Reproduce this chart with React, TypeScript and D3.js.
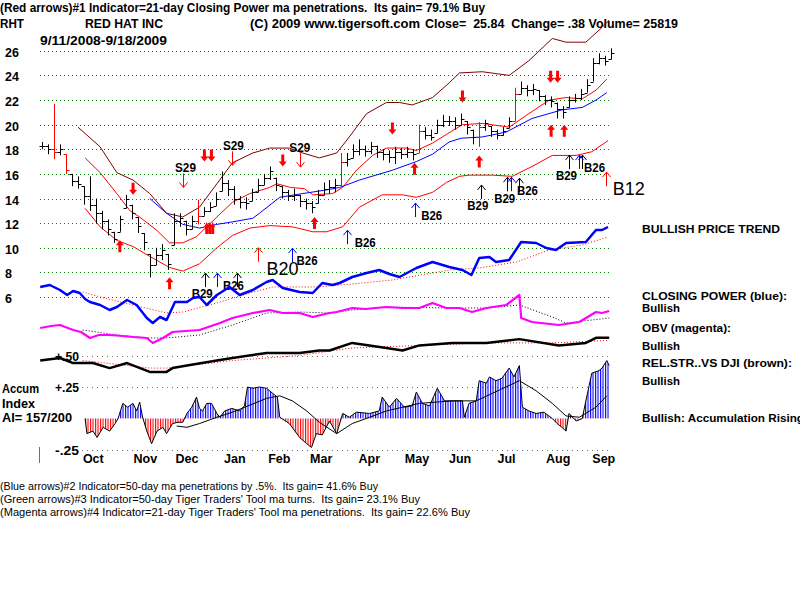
import React from 'react';
import * as d3 from 'd3';

type Pt = [number, number];

// price bars (one bar every ~2.7 trading days), 9/11/2008 - 9/18/2009
const closes = [
  18.3, 18.0, 17.8, 18.0, 16.3, 15.4, 15.2, 14.2, 13.5, 12.8, 12.2, 11.5, 10.7, 12.3, 14.0, 12.8,
  11.8, 10.5, 8.6, 9.4, 9.8, 8.7, 12.2, 12.4, 11.5, 12.2, 12.6, 13.0, 13.3, 14.0, 15.3, 14.8,
  14.0, 13.7, 13.6, 14.5, 15.1, 15.7, 16.2, 15.1, 14.5, 14.2, 14.3, 13.8, 13.6, 13.3, 14.3, 14.8,
  14.9, 15.1, 17.0, 17.2, 17.9, 18.0, 17.9, 18.3, 17.8, 17.6, 17.4, 17.8, 17.6, 17.8, 17.6, 19.5,
  19.2, 19.0, 20.0, 20.3, 20.3, 20.0, 20.5, 19.8, 19.0, 19.8, 20.1, 19.5, 19.2, 19.5, 20.3, 22.5,
  23.0, 22.8, 22.9, 22.3, 22.0, 21.9, 21.3, 21.0, 22.0, 22.2, 22.5, 23.2, 25.0, 25.4, 25.2, 25.8,
];
const highs = [
  18.6, 18.4, 21.7, 18.4, 17.6, 16.0, 15.8, 15.0, 15.8, 14.0, 13.0, 12.3, 11.3, 12.6, 14.3, 13.5,
  12.5, 11.2, 9.5, 10.0, 10.3, 9.5, 12.8, 12.8, 12.2, 12.6, 13.9, 13.3, 13.7, 14.5, 16.2, 15.5,
  15.0, 14.2, 14.1, 14.8, 15.6, 16.0, 16.6, 15.7, 15.0, 14.7, 14.8, 14.3, 14.0, 13.8, 14.7, 15.3,
  15.5, 15.6, 17.7, 17.7, 18.4, 18.8, 18.3, 18.6, 18.3, 18.0, 17.9, 18.2, 18.1, 18.2, 18.0, 20.0,
  19.8, 19.6, 20.4, 20.8, 20.7, 20.6, 20.9, 20.3, 19.6, 20.2, 20.4, 19.9, 19.6, 19.8, 20.6, 23.0,
  23.5, 23.2, 23.3, 22.8, 22.4, 22.3, 21.8, 21.5, 22.3, 22.5, 22.9, 23.7, 25.4, 25.8, 25.6, 26.2,
];
const lows = [
  18.0, 17.6, 17.2, 17.5, 16.0, 15.0, 14.8, 13.5, 13.0, 12.0, 11.5, 11.0, 10.4, 11.3, 13.2, 12.3,
  11.2, 9.8, 7.6, 8.6, 9.0, 8.2, 10.2, 11.7, 11.0, 11.5, 11.9, 12.6, 12.9, 13.4, 14.6, 14.2,
  13.5, 13.2, 13.1, 13.8, 14.5, 15.1, 15.5, 14.6, 14.0, 13.8, 13.8, 13.3, 13.1, 12.8, 13.6, 14.3,
  14.4, 14.5, 14.9, 16.6, 17.3, 17.5, 17.4, 17.6, 17.3, 17.1, 16.9, 16.8, 17.2, 17.3, 17.1, 17.7,
  18.8, 18.7, 19.3, 19.8, 19.9, 19.6, 20.0, 19.2, 18.4, 18.2, 19.5, 19.0, 18.8, 19.1, 19.7, 20.3,
  22.5, 22.3, 22.4, 21.9, 21.6, 21.4, 20.5, 20.5, 21.4, 21.8, 22.0, 22.6, 23.5, 24.9, 24.8, 25.3,
];
const redBars = [2, 4, 26, 50, 63, 73, 79];

// bands and averages as [bar, price]
const upperBand: Pt[] = [
  [6, 19.8], [9.7, 18.2], [12.5, 16.1], [15.2, 15.5], [18, 14.4], [20.8, 12.8], [23.5, 12.5],
  [26.3, 13.3], [29.2, 15.2], [31.8, 16.9], [35.2, 17.7], [38, 18.1], [41.3, 18.1], [43.5, 17.7],
  [46.3, 17.3], [49.2, 17.7], [51.3, 19.0], [54.2, 20.9], [57.5, 21.8], [59.7, 21.8], [61.8, 21.6],
  [65.2, 22.2], [68, 23.4], [69.7, 24.2], [73.5, 24.3], [78, 24.0], [81.3, 25.2], [85.2, 27.0],
  [87.5, 26.7], [90.8, 26.7], [93.5, 27.9], [94.7, 28.5],
];
const midBand: Pt[] = [
  [7.2, 17.3], [9.7, 16.1], [12.5, 14.4], [14.7, 13.0], [16.3, 12.5], [19.2, 11.4], [21.3, 10.4],
  [23.5, 10.4], [25.8, 10.9], [27.5, 11.7], [29.2, 12.5], [31.8, 13.7], [34.7, 14.4], [38, 14.9],
  [39.2, 15.2], [41.5, 14.9], [43.8, 14.8], [45.2, 14.3], [48.5, 14.4], [50.2, 14.9], [52.5, 16.3],
  [55.2, 17.5], [57.5, 18.1], [60.8, 18.1], [62.5, 17.9], [65.2, 18.5], [67.5, 19.2], [70.2, 20.0],
  [73.5, 20.1], [78, 19.8], [81.3, 20.9], [84.7, 22.0], [87.5, 22.2], [90.2, 22.1], [92.5, 22.8],
  [94.3, 23.7],
];
const blueMA: Pt[] = [
  [18, 14.0], [20.8, 12.8], [23.5, 11.9], [26.3, 11.6], [29.2, 11.9], [31.8, 12.1], [35.2, 12.4],
  [36.3, 12.8], [39.7, 14.1], [43.5, 14.4], [47.5, 14.7], [49.7, 14.9], [53, 15.5], [58.5, 16.3],
  [62.5, 17.0], [65.2, 17.6], [68, 18.6], [70, 18.9], [73.5, 19.0], [77.5, 19.4], [81.8, 20.5],
  [86.8, 21.2], [90.2, 21.4], [92.5, 22.0], [94.3, 22.6],
];
const lowerBand: Pt[] = [
  [7.2, 13.2], [9.7, 11.7], [12.5, 10.6], [15.2, 10.1], [18, 9.3], [21.3, 8.4], [23.5, 8.1],
  [26.3, 8.7], [29.2, 10.0], [31.8, 11.0], [34.7, 11.6], [38, 11.8], [41.8, 11.7], [45.2, 11.3],
  [47.5, 11.3], [50.2, 11.7], [53, 13.3], [56.8, 14.3], [60.2, 14.3], [62.5, 14.1], [65.2, 14.5],
  [67.5, 15.3], [69.7, 15.8], [71.3, 15.9], [75.2, 15.9], [78.5, 15.8], [81.8, 16.6], [85.2, 17.5],
  [89.2, 17.5], [91.8, 17.8], [94.5, 18.7],
];

// closing power, OBV (arbitrary units) and relative strength, accumulation index
const closingPower: Pt[] = [
  [-0.3, 43], [1.3, 45], [3, 40], [4.2, 35], [5.2, 39], [6.3, 37], [7.2, 31], [8, 28], [9.7, 25],
  [11.3, 20], [12.5, 23], [14.2, 30], [15.8, 25], [17.5, 12], [18.5, 7], [19.7, 13], [20.8, 10],
  [22.2, 28], [24.2, 28], [25.2, 32], [26.3, 33], [27.5, 25], [29.2, 35], [31.3, 43], [33, 35],
  [35.2, 40], [37.5, 48], [38.5, 50], [40.2, 42], [43, 38], [45.2, 37], [46.8, 47], [48.5, 45],
  [49.7, 47], [51.8, 53], [54.2, 57], [56.3, 60], [58, 56], [59.7, 53], [62.5, 62], [65.2, 68],
  [68, 63], [70.2, 60], [71.7, 55], [73, 72], [74.7, 73], [75.8, 68], [78, 70], [80, 88],
  [82.5, 87], [84.2, 82], [85.8, 80], [87.5, 87], [90.8, 88], [92.5, 100], [93.5, 100], [94.5, 103],
];
const closingPowerMA: Pt[] = [
  [6.8, 38], [9.7, 33], [15.2, 25], [20.8, 17], [23.5, 18], [29.2, 27], [34.7, 37], [38.5, 43],
  [45.8, 43], [51.8, 46], [58.5, 50], [68, 60], [73, 62], [79.2, 68], [84.7, 80], [90.2, 85], [94.5, 93],
];
const obv: Pt[] = [
  [-0.3, 22], [1.5, 24], [3, 25], [5.2, 20], [6.5, 18], [8, 12], [9.5, 15], [11.3, 15], [13.5, 14],
  [15.2, 13], [17.5, 12], [18.5, 7], [20.2, 12], [21.8, 18], [24, 19], [26.3, 20], [29.7, 27],
  [31.8, 32], [35.2, 37], [38, 40], [40.2, 37], [43, 37], [45.2, 33], [48, 37], [49.2, 38],
  [51.8, 42], [54, 41], [57.5, 43], [60.2, 42], [63, 42], [65.2, 47], [67.5, 42], [69.7, 42],
  [71.8, 38], [74.2, 42], [77.5, 45], [79.7, 55], [80, 32], [81.8, 28], [86.3, 25], [89.7, 28],
  [92.5, 38], [93.5, 37], [94.7, 39],
];
const obvMA: Pt[] = [
  [6.8, 20], [12.5, 15], [18, 12], [20.8, 12], [26.3, 15], [31.8, 25], [37.5, 37], [43, 38],
  [48, 37], [51.8, 40], [57.5, 43], [68.5, 42], [74.2, 42], [79.7, 45], [85.2, 33], [87.5, 27], [94.7, 32],
];
const relStrength: Pt[] = [
  [-0.3, 0.46], [3, 0.48], [5.2, 0.44], [8.5, 0.44], [11.3, 0.40], [14.2, 0.44], [18, 0.37],
  [20.8, 0.37], [21.8, 0.40], [24.2, 0.42], [29.2, 0.46], [31.8, 0.48], [37.5, 0.52], [43, 0.52],
  [46.3, 0.54], [48, 0.54], [51.8, 0.60], [57.5, 0.56], [60.2, 0.54], [63, 0.58], [68.5, 0.60],
  [74.2, 0.60], [79.7, 0.63], [86.3, 0.58], [90.8, 0.60], [92.5, 0.64], [94.7, 0.64],
];
const relStrengthMA: Pt[] = [
  [6.8, 0.46], [18, 0.40], [20.8, 0.40], [31.8, 0.46], [43, 0.50], [51.8, 0.56], [74.2, 0.60],
  [85.2, 0.60], [94.7, 0.62],
];
const accum: Pt[] = [
  [7.2, 0], [7.5, -0.12], [8.5, -0.10], [9.2, -0.15], [10.2, -0.07], [11.3, -0.10], [12.2, -0.04],
  [12.7, 0], [13.5, 0.12], [14.3, 0.09], [15.2, 0.12], [15.8, 0.06], [16.3, 0.13], [16.8, 0.01],
  [17.5, -0.10], [18.3, -0.20], [19.2, -0.10], [20.2, -0.07], [20.8, -0.12], [21.8, -0.04],
  [22.7, -0.03], [23.5, -0.03], [24.2, 0.04], [25, 0.09], [25.8, 0.17], [26.3, 0.08], [26.8, 0.06],
  [27.5, 0.12], [28.3, 0.12], [29.2, 0.04], [29.7, 0.01], [30.5, 0.06], [31.7, 0.08], [33, 0.06],
  [33.8, 0.10], [34.3, 0.25], [35.2, 0.24], [36.3, 0.25], [37.5, 0.24], [38.5, 0.20], [39.3, 0.17],
  [39.7, 0.01], [41.3, -0.04], [43, -0.15], [44.2, -0.20], [45, -0.23], [45.8, -0.12], [46.8, -0.13],
  [48, -0.02], [49.2, -0.12], [50.2, 0.04], [51.3, 0.01], [52.5, 0.05], [54.7, 0.04], [56.3, 0.06],
  [56.8, 0.17], [58, 0.09], [59.2, 0.16], [60.5, 0.09], [61.8, 0.10], [62.5, 0.21], [63.5, 0.12],
  [64.7, 0.10], [66, 0.24], [67.2, 0.14], [68.8, 0.14], [70.2, 0.14], [70.5, 0.01], [71.3, 0.12],
  [72.5, 0.14], [73, 0.30], [74.2, 0.28], [74.7, 0.33], [75.8, 0.30], [76.8, 0.32], [78, 0.40],
  [78.8, 0.33], [79.7, 0.42], [80.2, 0.09], [81.3, 0.06], [82.5, 0.04], [83.8, 0.05], [85.2, 0],
  [86, -0.04], [86.8, -0.07], [87.5, -0.10], [88, 0.04], [89.2, -0.02], [90.2, 0], [90.8, 0.14],
  [91.8, 0.36], [93, 0.38], [93.5, 0.40], [94.3, 0.46], [94.7, 0.42],
];
const accumMA: Pt[] = [
  [22.5, -0.06], [24.2, -0.07], [26.3, -0.04], [29.2, 0.01], [31.8, 0.05], [37.5, 0.16],
  [39.7, 0.18], [41.8, 0.14], [44.2, 0.06], [46.3, -0.03], [49.2, -0.12], [51.8, -0.04],
  [54.7, 0.01], [57.5, 0.06], [63, 0.12], [68.5, 0.14], [72.5, 0.14], [75.2, 0.20], [79.7, 0.30],
  [82.5, 0.22], [85.2, 0.12], [87.5, 0.02], [89.7, 0.01], [92.5, 0.09], [94.3, 0.18],
];

// signals: bar, price at arrow tip
const boldArrows = [
  { i: 15.2, p: 14.3, dir: 'down', n: 1 }, { i: 27.7, p: 17.0, dir: 'down', n: 2 },
  { i: 28, p: 12.1, dir: 'up', n: 3 }, { i: 13, p: 10.6, dir: 'up', n: 1 },
  { i: 21.3, p: 7.6, dir: 'up', n: 1 }, { i: 40.2, p: 16.6, dir: 'down', n: 1 },
  { i: 45.5, p: 12.5, dir: 'up', n: 1 }, { i: 58.5, p: 19.2, dir: 'down', n: 1 },
  { i: 62.2, p: 16.9, dir: 'up', n: 1 }, { i: 70.2, p: 21.8, dir: 'down', n: 1 },
  { i: 73, p: 17.5, dir: 'up', n: 1 }, { i: 85.5, p: 23.4, dir: 'down', n: 2 },
  { i: 85, p: 20.0, dir: 'up', n: 1 }, { i: 87.2, p: 20.0, dir: 'up', n: 1 },
];
const thinArrows = [
  { i: 23.5, p: 14.9, dir: 'down', kind: 'red' }, { i: 31.8, p: 16.7, dir: 'down', kind: 'red' },
  { i: 43, p: 16.55, dir: 'down', kind: 'red' }, { i: 36, p: 10.0, dir: 'up', kind: 'red' },
  { i: 94.2, p: 16.15, dir: 'up', kind: 'red' },
  { i: 27.2, p: 7.94, dir: 'up', kind: 'black' }, { i: 32.5, p: 7.94, dir: 'up', kind: 'black' },
  { i: 73.3, p: 15.1, dir: 'up', kind: 'black' }, { i: 77.7, p: 15.73, dir: 'up', kind: 'black' },
  { i: 79.7, p: 15.65, dir: 'up', kind: 'black' }, { i: 88, p: 17.53, dir: 'up', kind: 'black' },
  { i: 90.2, p: 17.53, dir: 'up', kind: 'black' },
  { i: 29.3, p: 7.94, dir: 'up', kind: 'blue' }, { i: 41.7, p: 9.97, dir: 'up', kind: 'blue' },
  { i: 51, p: 11.43, dir: 'up', kind: 'blue' }, { i: 62.2, p: 13.63, dir: 'up', kind: 'blue' },
  { i: 78.3, p: 15.73, dir: 'up', kind: 'blue' }, { i: 89.7, p: 17.53, dir: 'up', kind: 'blue' },
];
const signalLabels = [
  { text: 'S29', i: 22.2, p: 16.15 }, { text: 'S29', i: 30.2, p: 17.93 }, { text: 'S29', i: 41.3, p: 17.8 },
  { text: 'B29', i: 25, p: 5.9 }, { text: 'B26', i: 30.2, p: 6.56 }, { text: 'B26', i: 42.5, p: 8.59 },
  { text: 'B26', i: 52.2, p: 10.08 }, { text: 'B26', i: 63.3, p: 12.25 }, { text: 'B29', i: 71, p: 13.06 },
  { text: 'B29', i: 75.5, p: 13.6 }, { text: 'B26', i: 79.3, p: 14.28 }, { text: 'B29', i: 85.8, p: 15.5 },
  { text: 'B26', i: 90.5, p: 16.17 },
];
const bigLabels = [{ text: 'B20', i: 37.5, p: 7.78 }, { text: 'B12', i: 95.3, p: 14.28 }];

const priceTicks = [26, 24, 22, 20, 18, 16, 14, 12, 10, 8, 6];
const accumTicks = [
  { v: 0.5, label: '+.50' }, { v: 0.25, label: '+.25' }, { v: -0.25, label: '-.25' },
];
const months = ['Oct', 'Nov', 'Dec', 'Jan', 'Feb', 'Mar', 'Apr', 'May', 'Jun', 'Jul', 'Aug', 'Sep'];
const monthStartDay = [14, 37, 56, 78, 98, 117, 139, 160, 180, 202, 224, 245];
const lastDay = 258;

const FONT = '"Liberation Sans", Arial, Helvetica, sans-serif';
const kindColor: Record<string, string> = { red: '#ff0000', black: '#000000', blue: '#0000ff' };

const App: React.FC = () => {
  const xBar = d3.scaleLinear().domain([0, 95]).range([42, 611]);
  const xDay = d3.scaleLinear().domain([0, lastDay]).range([42, 611]);
  const yP = d3.scaleLinear().domain([6, 26]).range([297, 50.8]);
  const yCP = d3.scaleLinear().domain([0, 100]).range([330, 230]);
  const yOBV = d3.scaleLinear().domain([0, 100]).range([350, 250]);
  const yA = d3.scaleLinear().domain([-0.25, 0.5]).range([450, 355.5]);

  const mk = (ys: d3.ScaleLinear<number, number>) =>
    d3.line<Pt>().x(d => xBar(d[0])).y(d => ys(d[1]));
  const lineP = mk(yP);
  const accArea = d3.area<Pt>().x(d => xBar(d[0])).y0(yA(0)).y1(d => yA(d[1]));
  const zeroY = yA(0);

  const boldArrow = (x: number, tip: number, dir: string, w: number) => {
    const s = dir === 'up' ? 1 : -1;
    const pts = [
      [x, tip], [x + w, tip + 5 * s], [x + 1.5, tip + 5 * s], [x + 1.5, tip + 12 * s],
      [x - 1.5, tip + 12 * s], [x - 1.5, tip + 5 * s], [x - w, tip + 5 * s],
    ];
    return pts.map(p => p.join(',')).join(' ');
  };

  const txt = (extra: React.SVGProps<SVGTextElement>, s: string) => (
    <text fontFamily={FONT} style={{ whiteSpace: 'pre' }} {...extra}>{s}</text>
  );

  return (
    <svg width={800} height={600} style={{ position: 'absolute', left: 0, top: 0, background: '#fff' }}>
      <defs>
        <pattern id="hatchBlue" patternUnits="userSpaceOnUse" width={2.5} height={10}>
          <rect x={0} y={0} width={1.1} height={10} fill="#0000ff" />
        </pattern>
        <pattern id="hatchRed" patternUnits="userSpaceOnUse" width={2.5} height={10}>
          <rect x={0} y={0} width={1.1} height={10} fill="#ff0000" />
        </pattern>
        <clipPath id="above"><rect x={0} y={300} width={800} height={zeroY - 300} /></clipPath>
        <clipPath id="below"><rect x={0} y={zeroY} width={800} height={100} /></clipPath>
      </defs>

      {/* header */}
      {txt({ x: 0, y: 12, fontSize: 12, fontWeight: 'bold', textLength: 485, lengthAdjust: 'spacingAndGlyphs' },
        '(Red arrows)#1 Indicator=21-day Closing Power ma penetrations.  Its gain= 79.1% Buy')}
      {txt({ x: 0, y: 28, fontSize: 12, fontWeight: 'bold', textLength: 24, lengthAdjust: 'spacingAndGlyphs' }, 'RHT')}
      {txt({ x: 85, y: 28, fontSize: 12, fontWeight: 'bold', textLength: 78, lengthAdjust: 'spacingAndGlyphs' }, 'RED HAT INC')}
      {txt({ x: 250, y: 28, fontSize: 12, fontWeight: 'bold', textLength: 170, lengthAdjust: 'spacingAndGlyphs' }, '(C) 2009 www.tigersoft.com')}
      {txt({ x: 425, y: 28, fontSize: 12, fontWeight: 'bold', textLength: 253, lengthAdjust: 'spacingAndGlyphs' }, 'Close=  25.84  Change= .38 Volume= 25819')}
      {txt({ x: 40, y: 45, fontSize: 12, fontWeight: 'bold', textLength: 127, lengthAdjust: 'spacingAndGlyphs' }, '9/11/2008-9/18/2009')}

      {/* price grid */}
      {priceTicks.map(t => {
        const y = Math.round(yP(t)) + 0.5;
        return (
          <g key={t}>
            <line x1={40} x2={611} y1={y} y2={y} stroke="#008000" strokeDasharray="1 3" />
            {txt({ x: 5, y: y + 5, fontSize: 12.5, fontWeight: 'bold' }, String(t))}
          </g>
        );
      })}

      {/* accumulation panel grid */}
      {accumTicks.map(t => {
        const y = Math.round(yA(t.v)) + 0.5;
        return (
          <g key={t.label}>
            <line x1={82} x2={611} y1={y} y2={y} stroke="#707070" strokeDasharray="1 4" />
            {txt({ x: 55, y: y + 4, fontSize: 12, fontWeight: 'bold', textLength: 24, lengthAdjust: 'spacingAndGlyphs' }, t.label)}
          </g>
        );
      })}

      {/* bands */}
      <path d={lineP(upperBand) || ''} fill="none" stroke="#800000" strokeWidth={1} />
      <path d={lineP(midBand) || ''} fill="none" stroke="#ff0000" strokeWidth={1} />
      <path d={lineP(lowerBand) || ''} fill="none" stroke="#ff0000" strokeWidth={1} />
      <path d={lineP(blueMA) || ''} fill="none" stroke="#0000ff" strokeWidth={1} />

      {/* price bars */}
      {closes.map((c, i) => {
        const x = Math.round(xBar(i)) + 0.5;
        const prev = i > 0 ? closes[i - 1] : c;
        const o = Math.min(highs[i], Math.max(lows[i], prev));
        const col = redBars.includes(i) ? '#ff0000' : '#000000';
        return (
          <g key={i} stroke={col} strokeWidth={1}>
            <line x1={x} x2={x} y1={yP(highs[i])} y2={yP(lows[i])} />
            <line x1={x - 3} x2={x} y1={Math.round(yP(o)) + 0.5} y2={Math.round(yP(o)) + 0.5} />
            <line x1={x} x2={x + 3} y1={Math.round(yP(c)) + 0.5} y2={Math.round(yP(c)) + 0.5} />
          </g>
        );
      })}

      {/* signal arrows */}
      {boldArrows.map((a, k) => {
        const offs = a.n === 3 ? [-3, 0, 3] : a.n === 2 ? [-3.5, 3.5] : [0];
        const w = a.n === 3 ? 2.5 : 4;
        return offs.map(o => (
          <polygon key={`${k}-${o}`} points={boldArrow(xBar(a.i) + o, yP(a.p), a.dir, w)} fill="#ff0000" />
        ));
      })}
      {thinArrows.map((a, k) => {
        const x = Math.round(xBar(a.i)) + 0.5;
        const tip = yP(a.p);
        const s = a.dir === 'up' ? 1 : -1;
        return (
          <g key={k} stroke={kindColor[a.kind]} strokeWidth={1} fill="none">
            <line x1={x} x2={x} y1={tip} y2={tip + 14 * s} />
            <polyline points={`${x - 4},${tip + 5 * s} ${x},${tip} ${x + 4},${tip + 5 * s}`} />
          </g>
        );
      })}
      {signalLabels.map((l, k) =>
        <g key={k}>{txt({ x: xBar(l.i), y: yP(l.p), fontSize: 12.5, fontWeight: 'bold', textLength: 21, lengthAdjust: 'spacingAndGlyphs' }, l.text)}</g>)}
      {bigLabels.map((l, k) =>
        <g key={k}>{txt({ x: xBar(l.i), y: yP(l.p), fontSize: 18 }, l.text)}</g>)}

      {/* closing power */}
      <path d={mk(yCP)(closingPowerMA) || ''} fill="none" stroke="#ff0000" strokeDasharray="1 2" />
      <path d={mk(yCP)(closingPower) || ''} fill="none" stroke="#0000ff" strokeWidth={2.5} strokeLinejoin="round" />

      {/* OBV */}
      <path d={mk(yOBV)(obvMA) || ''} fill="none" stroke="#000000" strokeDasharray="1 2" />
      <path d={mk(yOBV)(obv) || ''} fill="none" stroke="#ff00ff" strokeWidth={2.2} strokeLinejoin="round" />

      {/* relative strength */}
      <path d={mk(yA)(relStrengthMA) || ''} fill="none" stroke="#ff0000" strokeDasharray="1 2" />
      <path d={mk(yA)(relStrength) || ''} fill="none" stroke="#000000" strokeWidth={2.5} strokeLinejoin="round" />

      {/* accumulation index */}
      <path d={accArea(accum) || ''} fill="url(#hatchBlue)" clipPath="url(#above)" />
      <path d={accArea(accum) || ''} fill="url(#hatchRed)" clipPath="url(#below)" />
      <path d={mk(yA)(accum) || ''} fill="none" stroke="#000000" strokeWidth={1} />
      <path d={mk(yA)(accumMA) || ''} fill="none" stroke="#000000" strokeWidth={1} />
      <line x1={39.5} x2={39.5} y1={447} y2={463} stroke="#808000" strokeWidth={1} />

      {txt({ x: 2, y: 393, fontSize: 12, fontWeight: 'bold', textLength: 37, lengthAdjust: 'spacingAndGlyphs' }, 'Accum')}
      {txt({ x: 2, y: 408, fontSize: 12, fontWeight: 'bold', textLength: 33, lengthAdjust: 'spacingAndGlyphs' }, 'Index')}
      {txt({ x: 2, y: 422, fontSize: 12, fontWeight: 'bold', textLength: 70, lengthAdjust: 'spacingAndGlyphs' }, 'AI= 157/200')}

      {/* month axis */}
      {months.map((m, k) =>
        <g key={m}>{txt({ x: xDay(monthStartDay[k]) + 10, y: 463, fontSize: 12.5, fontWeight: 'bold' }, m)}</g>)}

      {/* right side status */}
      {txt({ x: 642, y: 233, fontSize: 11.5, fontWeight: 'bold', textLength: 138, lengthAdjust: 'spacingAndGlyphs' }, 'BULLISH PRICE TREND')}
      {txt({ x: 642, y: 300, fontSize: 11.5, fontWeight: 'bold', textLength: 145, lengthAdjust: 'spacingAndGlyphs' }, 'CLOSING POWER (blue):')}
      {txt({ x: 642, y: 312, fontSize: 11.5, fontWeight: 'bold', textLength: 38, lengthAdjust: 'spacingAndGlyphs' }, 'Bullish')}
      {txt({ x: 642, y: 332, fontSize: 11.5, fontWeight: 'bold', textLength: 89, lengthAdjust: 'spacingAndGlyphs' }, 'OBV (magenta):')}
      {txt({ x: 642, y: 350, fontSize: 11.5, fontWeight: 'bold', textLength: 38, lengthAdjust: 'spacingAndGlyphs' }, 'Bullish')}
      {txt({ x: 642, y: 367, fontSize: 11.5, fontWeight: 'bold', textLength: 150, lengthAdjust: 'spacingAndGlyphs' }, 'REL.STR..VS DJI (brown):')}
      {txt({ x: 642, y: 385, fontSize: 11.5, fontWeight: 'bold', textLength: 38, lengthAdjust: 'spacingAndGlyphs' }, 'Bullish')}
      {txt({ x: 642, y: 422, fontSize: 11.5, fontWeight: 'bold', textLength: 162, lengthAdjust: 'spacingAndGlyphs' }, 'Bullish: Accumulation Rising')}

      {/* footer */}
      {txt({ x: 0, y: 490, fontSize: 11, textLength: 378, lengthAdjust: 'spacingAndGlyphs' },
        '(Blue arrows)#2 Indicator=50-day ma penetrations by .5%.  Its gain= 41.6% Buy')}
      {txt({ x: 0, y: 503, fontSize: 11, textLength: 420, lengthAdjust: 'spacingAndGlyphs' },
        "(Green arrows)#3 Indicator=50-day Tiger Traders' Tool ma turns.  Its gain= 23.1% Buy")}
      {txt({ x: 0, y: 516, fontSize: 11, textLength: 470, lengthAdjust: 'spacingAndGlyphs' },
        "(Magenta arrows)#4 Indicator=21-day Tiger Traders' Tool ma penetrations.  Its gain= 22.6% Buy")}
    </svg>
  );
};

export default App;
